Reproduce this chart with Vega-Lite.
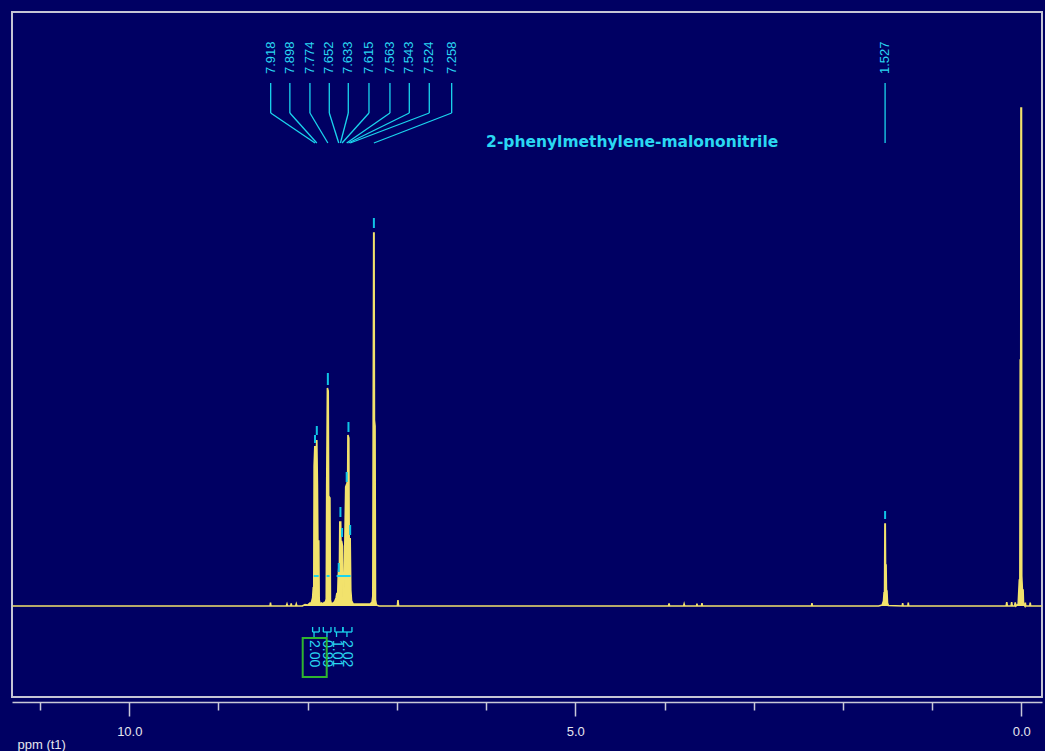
{
  "$schema": "https://vega.github.io/schema/vega-lite/v6.json",
  "width": 1030,
  "height": 685,
  "autosize": {"type": "none"},
  "padding": {"left": 12, "top": 12, "right": 3, "bottom": 54},
  "background": "#000063",
  "config": {"view": {"stroke": "#c4c4d4", "strokeWidth": 2}, "font": "Liberation Sans"},
  "datasets": {
    "spectrum": [
      {"ppm": 11.31, "i": 0}, {"ppm": 8.6, "i": 0}, {"ppm": 8.422, "i": 0}, {"ppm": 8.417, "i": 0.35}, {"ppm": 8.412, "i": 0},
      {"ppm": 8.24, "i": 0}, {"ppm": 8.232, "i": 0.2}, {"ppm": 8.225, "i": 0}, {"ppm": 8.19, "i": 0}, {"ppm": 8.185, "i": 0.25}, {"ppm": 8.18, "i": 0},
      {"ppm": 8.135, "i": 0}, {"ppm": 8.128, "i": 0.2}, {"ppm": 8.121, "i": 0}, {"ppm": 8.06, "i": 0}, {"ppm": 8.03, "i": 0.15}, {"ppm": 8.0, "i": 0.1},
      {"ppm": 7.975, "i": 0.3}, {"ppm": 7.96, "i": 0.3}, {"ppm": 7.945, "i": 0.8}, {"ppm": 7.937, "i": 1.9}, {"ppm": 7.932, "i": 1.6},
      {"ppm": 7.928, "i": 14.0}, {"ppm": 7.92, "i": 16.0}, {"ppm": 7.912, "i": 14.8}, {"ppm": 7.904, "i": 15.5}, {"ppm": 7.898, "i": 16.6},
      {"ppm": 7.891, "i": 12.0}, {"ppm": 7.886, "i": 6.5}, {"ppm": 7.876, "i": 6.5}, {"ppm": 7.871, "i": 0.6}, {"ppm": 7.862, "i": 0.2},
      {"ppm": 7.845, "i": 0.3}, {"ppm": 7.83, "i": 0.2}, {"ppm": 7.815, "i": 0.35}, {"ppm": 7.8, "i": 0.4}, {"ppm": 7.792, "i": 0.7},
      {"ppm": 7.787, "i": 12.0}, {"ppm": 7.779, "i": 21.8}, {"ppm": 7.77, "i": 21.5}, {"ppm": 7.765, "i": 11.0}, {"ppm": 7.751, "i": 10.8},
      {"ppm": 7.745, "i": 0.6}, {"ppm": 7.735, "i": 0.2}, {"ppm": 7.715, "i": 0.3}, {"ppm": 7.7, "i": 0.4}, {"ppm": 7.682, "i": 0.8},
      {"ppm": 7.672, "i": 1.3}, {"ppm": 7.664, "i": 1.0}, {"ppm": 7.658, "i": 3.0}, {"ppm": 7.65, "i": 4.0}, {"ppm": 7.644, "i": 4.0},
      {"ppm": 7.64, "i": 8.4}, {"ppm": 7.63, "i": 8.4}, {"ppm": 7.625, "i": 3.5}, {"ppm": 7.62, "i": 6.5}, {"ppm": 7.61, "i": 6.0},
      {"ppm": 7.605, "i": 0.9}, {"ppm": 7.598, "i": 1.0}, {"ppm": 7.592, "i": 2.0}, {"ppm": 7.586, "i": 5.0}, {"ppm": 7.574, "i": 11.9},
      {"ppm": 7.562, "i": 12.2}, {"ppm": 7.552, "i": 12.5}, {"ppm": 7.549, "i": 17.1}, {"ppm": 7.539, "i": 16.8}, {"ppm": 7.535, "i": 6.6},
      {"ppm": 7.524, "i": 6.8}, {"ppm": 7.517, "i": 1.6}, {"ppm": 7.508, "i": 0.5}, {"ppm": 7.49, "i": 0.2}, {"ppm": 7.46, "i": 0.2},
      {"ppm": 7.3, "i": 0.2}, {"ppm": 7.278, "i": 0.4}, {"ppm": 7.27, "i": 1.0}, {"ppm": 7.266, "i": 18.6}, {"ppm": 7.26, "i": 37.3},
      {"ppm": 7.256, "i": 37.3}, {"ppm": 7.252, "i": 18.6}, {"ppm": 7.245, "i": 18.0}, {"ppm": 7.24, "i": 0.6}, {"ppm": 7.23, "i": 0.1},
      {"ppm": 7.2, "i": 0}, {"ppm": 6.995, "i": 0}, {"ppm": 6.988, "i": 0.6}, {"ppm": 6.981, "i": 0},
      {"ppm": 3.955, "i": 0}, {"ppm": 3.949, "i": 0.25}, {"ppm": 3.943, "i": 0}, {"ppm": 3.786, "i": 0}, {"ppm": 3.78, "i": 0.2}, {"ppm": 3.774, "i": 0},
      {"ppm": 3.64, "i": 0}, {"ppm": 3.636, "i": 0.25}, {"ppm": 3.632, "i": 0}, {"ppm": 3.585, "i": 0}, {"ppm": 3.58, "i": 0.3}, {"ppm": 3.575, "i": 0},
      {"ppm": 2.352, "i": 0}, {"ppm": 2.347, "i": 0.3}, {"ppm": 2.342, "i": 0},
      {"ppm": 1.6, "i": 0}, {"ppm": 1.56, "i": 0.1}, {"ppm": 1.545, "i": 0.5}, {"ppm": 1.538, "i": 1.4}, {"ppm": 1.533, "i": 1.3},
      {"ppm": 1.529, "i": 8.2}, {"ppm": 1.525, "i": 8.2}, {"ppm": 1.522, "i": 4.1}, {"ppm": 1.516, "i": 4.1}, {"ppm": 1.512, "i": 1.6},
      {"ppm": 1.506, "i": 1.5}, {"ppm": 1.5, "i": 0.3}, {"ppm": 1.49, "i": 0.05},
      {"ppm": 1.335, "i": 0}, {"ppm": 1.33, "i": 0.3}, {"ppm": 1.325, "i": 0}, {"ppm": 1.272, "i": 0}, {"ppm": 1.267, "i": 0.35}, {"ppm": 1.262, "i": 0},
      {"ppm": 0.17, "i": 0}, {"ppm": 0.163, "i": 0.4}, {"ppm": 0.156, "i": 0}, {"ppm": 0.115, "i": 0}, {"ppm": 0.108, "i": 0.4}, {"ppm": 0.101, "i": 0},
      {"ppm": 0.075, "i": 0}, {"ppm": 0.068, "i": 0.35}, {"ppm": 0.06, "i": 0}, {"ppm": 0.035, "i": 0.2}, {"ppm": 0.022, "i": 2.6},
      {"ppm": 0.016, "i": 2.6}, {"ppm": 0.012, "i": 24.6}, {"ppm": 0.006, "i": 24.6}, {"ppm": 0.004, "i": 49.8}, {"ppm": -0.002, "i": 49.8},
      {"ppm": -0.005, "i": 3.0}, {"ppm": -0.012, "i": 1.6}, {"ppm": -0.02, "i": 1.6}, {"ppm": -0.025, "i": 0.2}, {"ppm": -0.04, "i": 0},
      {"ppm": -0.045, "i": 0.35}, {"ppm": -0.05, "i": 0}, {"ppm": -0.095, "i": 0}, {"ppm": -0.1, "i": 0.35}, {"ppm": -0.105, "i": 0},
      {"ppm": -0.23, "i": 0}
    ],
    "peaks": [
      {"ppm": 7.918, "lx": 8.415, "label": "7.918", "m1": 16.3, "m2": 17.1},
      {"ppm": 7.898, "lx": 8.2, "label": "7.898", "m1": 17.1, "m2": 18.0},
      {"ppm": 7.774, "lx": 7.975, "label": "7.774", "m1": 22.1, "m2": 23.3},
      {"ppm": 7.652, "lx": 7.758, "label": "7.652", "m1": 3.4, "m2": 4.3},
      {"ppm": 7.633, "lx": 7.545, "label": "7.633", "m1": 8.9, "m2": 9.9},
      {"ppm": 7.615, "lx": 7.313, "label": "7.615", "m1": 6.9, "m2": 7.8},
      {"ppm": 7.563, "lx": 7.078, "label": "7.563", "m1": 12.4, "m2": 13.4},
      {"ppm": 7.543, "lx": 6.861, "label": "7.543", "m1": 17.4, "m2": 18.4},
      {"ppm": 7.524, "lx": 6.637, "label": "7.524", "m1": 7.1, "m2": 8.1},
      {"ppm": 7.258, "lx": 6.386, "label": "7.258", "m1": 37.8, "m2": 38.8},
      {"ppm": 1.527, "lx": 1.527, "label": "1.527", "m1": 8.7, "m2": 9.5}
    ],
    "integrals": [
      {"a": 7.945, "b": 7.871, "c": 7.929, "label": "2.00"},
      {"a": 7.825, "b": 7.739, "c": 7.784, "label": "0.99"},
      {"a": 7.695, "b": 7.605, "c": 7.677, "label": "1.01"},
      {"a": 7.605, "b": 7.504, "c": 7.56, "label": "2.02"}
    ],
    "dashes": [
      {"a": 7.933, "b": 7.877}, {"a": 7.788, "b": 7.755}, {"a": 7.676, "b": 7.519}
    ]
  },
  "layer": [
    {
      "data": {"name": "spectrum"},
      "mark": {"type": "area", "color": "#f2e26c", "opacity": 1, "fillOpacity": 1, "line": {"color": "#f2e26c", "strokeWidth": 1.6}},
      "encoding": {
        "x": {"field": "ppm", "type": "quantitative",
          "scale": {"domain": [-0.232, 11.315], "reverse": true, "nice": false, "zero": false},
          "axis": {"title": "ppm (t1)", "values": [0, 1, 2, 3, 4, 5, 6, 7, 8, 9, 10, 11],
            "labelExpr": "datum.value % 5 === 0 ? format(datum.value, '.1f') : ''",
            "grid": false, "offset": 5,
            "tickSize": {"condition": {"test": "datum.value % 5 === 0", "value": 14}, "value": 8},
            "domainColor": "#c8c8d8", "tickColor": "#c8c8d8",
            "domainWidth": 1.5, "tickWidth": 1.5, "labelColor": "#e6e6ee", "labelFontSize": 13, "labelPadding": 9,
            "labelFlush": false, "labelOverlap": false, "titleColor": "#e6e6ee", "titleFontSize": 13,
            "titleFontWeight": "normal", "titleAnchor": "start", "titleAlign": "left", "titleX": 5, "titleY": 36,
            "titleBaseline": "top"}},
        "y": {"field": "i", "type": "quantitative", "scale": {"domain": [-9.1, 59.4], "nice": false, "zero": false}, "axis": null},
        "y2": {"datum": 0}
      }
    },
    {
      "data": {"name": "dashes"},
      "mark": {"type": "rule", "color": "#1ad5ee", "strokeWidth": 2},
      "encoding": {"x": {"field": "a", "type": "quantitative"}, "x2": {"field": "b"}, "y": {"datum": 3.0}}
    },
    {
      "data": {"name": "peaks"},
      "mark": {"type": "rule", "color": "#10c4e6", "strokeWidth": 2},
      "encoding": {"x": {"field": "ppm", "type": "quantitative"}, "y": {"field": "m1", "type": "quantitative"}, "y2": {"field": "m2"}}
    },
    {
      "data": {"name": "peaks"},
      "mark": {"type": "rule", "color": "#1ad5ee", "strokeWidth": 1.3},
      "encoding": {"x": {"field": "lx", "type": "quantitative"}, "y": {"datum": 52.3}, "y2": {"datum": 49.3}}
    },
    {
      "data": {"name": "peaks"},
      "mark": {"type": "rule", "color": "#1ad5ee", "strokeWidth": 1.3},
      "encoding": {"x": {"field": "lx", "type": "quantitative"}, "x2": {"field": "ppm"}, "y": {"datum": 49.3}, "y2": {"datum": 46.3}}
    },
    {
      "data": {"name": "peaks"},
      "mark": {"type": "text", "color": "#2ad8f2", "font": "Liberation Sans", "fontSize": 13, "angle": 270, "align": "left", "baseline": "middle"},
      "encoding": {"x": {"field": "lx", "type": "quantitative"}, "y": {"datum": 53.2}, "text": {"field": "label"}}
    },
    {
      "data": {"values": [{"ppm": 6.0, "t": "2-phenylmethylene-malononitrile"}]},
      "mark": {"type": "text", "color": "#2ad8f2", "font": "DejaVu Sans", "fontWeight": "bold", "fontSize": 15.5, "align": "left", "baseline": "middle"},
      "encoding": {"x": {"field": "ppm", "type": "quantitative"}, "y": {"datum": 46.4}, "text": {"field": "t"}}
    },
    {
      "data": {"name": "integrals"},
      "mark": {"type": "rule", "color": "#1ad5ee", "strokeWidth": 1.3},
      "encoding": {"x": {"field": "a", "type": "quantitative"}, "x2": {"field": "b"}, "y": {"datum": -2.6}}
    },
    {
      "data": {"name": "integrals"},
      "mark": {"type": "rule", "color": "#1ad5ee", "strokeWidth": 1.3},
      "encoding": {"x": {"field": "a", "type": "quantitative"}, "y": {"datum": -2.1}, "y2": {"datum": -2.6}}
    },
    {
      "data": {"name": "integrals"},
      "mark": {"type": "rule", "color": "#1ad5ee", "strokeWidth": 1.3},
      "encoding": {"x": {"field": "b", "type": "quantitative"}, "y": {"datum": -2.1}, "y2": {"datum": -2.6}}
    },
    {
      "data": {"name": "integrals"},
      "mark": {"type": "rule", "color": "#1ad5ee", "strokeWidth": 1.3},
      "encoding": {"x": {"field": "c", "type": "quantitative"}, "y": {"datum": -2.6}, "y2": {"datum": -3.1}}
    },
    {
      "data": {"name": "integrals"},
      "mark": {"type": "text", "color": "#2ad8f2", "font": "Liberation Sans", "fontSize": 14, "angle": 90, "align": "left", "baseline": "middle"},
      "encoding": {"x": {"field": "c", "type": "quantitative"}, "y": {"datum": -3.4}, "text": {"field": "label"}}
    },
    {
      "data": {"values": [{"a": 8.056, "b": 7.787}]},
      "mark": {"type": "rect", "fill": null, "filled": false, "stroke": "#2fb52f", "strokeWidth": 2},
      "encoding": {"x": {"field": "a", "type": "quantitative"}, "x2": {"field": "b"}, "y": {"datum": -3.2}, "y2": {"datum": -7.1}}
    }
  ]
}
